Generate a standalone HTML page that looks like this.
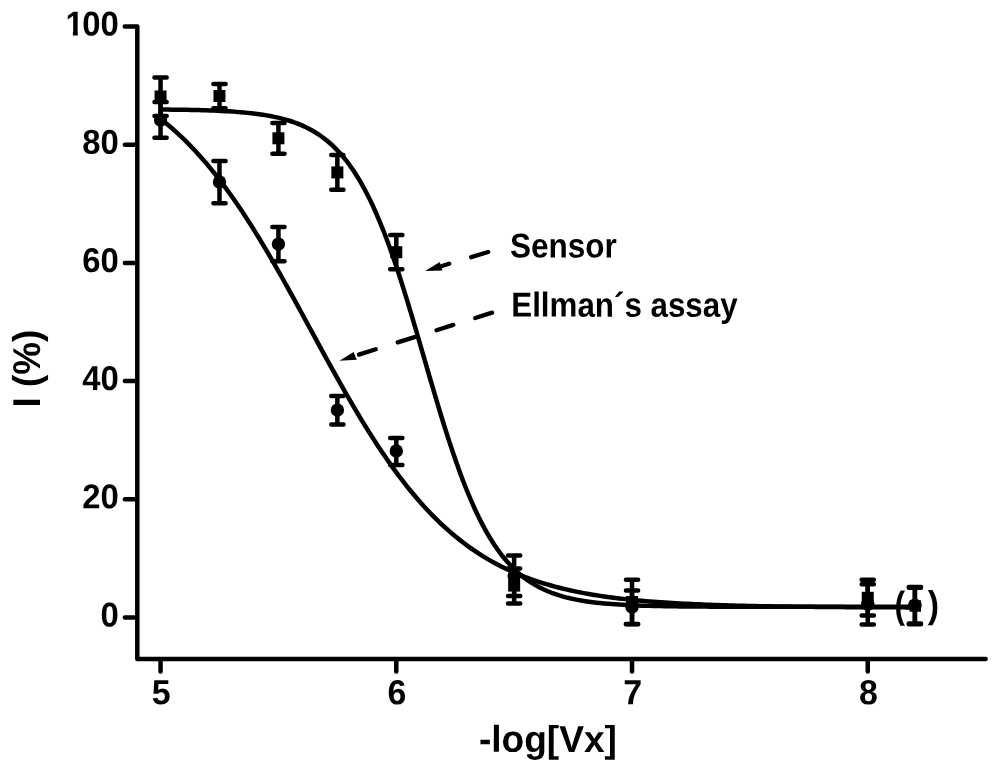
<!DOCTYPE html>
<html><head><meta charset="utf-8"><title>Inhibition curve</title>
<style>html,body{margin:0;padding:0;background:#fff}svg{display:block}text{font-family:"Liberation Sans",sans-serif;font-weight:bold;fill:#000}</style></head><body>
<svg width="1000" height="772" viewBox="0 0 1000 772">
<rect width="1000" height="772" fill="#fff"/>
<g fill="none" stroke="#000" stroke-width="4.50" stroke-linecap="round" stroke-linejoin="round">
<path d="M124.75,26.50 H137.30 V659.05 H985.60"/>
<path d="M124.85,617.45 H136.30"/>
<path d="M124.85,499.26 H136.30"/>
<path d="M124.85,381.07 H136.30"/>
<path d="M124.85,262.88 H136.30"/>
<path d="M124.85,144.69 H136.30"/>
<path d="M160.56,660.05 V671.40"/>
<path d="M396.29,660.05 V671.40"/>
<path d="M632.02,660.05 V671.40"/>
<path d="M867.75,660.05 V671.40"/>
<path stroke-linejoin="round" d="M160.56,109.51 L164.35,109.54 L168.14,109.58 L171.93,109.63 L175.72,109.68 L179.51,109.73 L183.30,109.80 L187.09,109.87 L190.89,109.94 L194.68,110.03 L198.47,110.12 L202.26,110.23 L206.05,110.34 L209.84,110.47 L213.63,110.62 L217.42,110.78 L221.21,110.95 L225.00,111.15 L228.79,111.37 L232.58,111.61 L236.37,111.88 L240.16,112.18 L243.95,112.51 L247.74,112.87 L251.54,113.28 L255.33,113.73 L259.12,114.23 L262.91,114.79 L266.70,115.40 L270.49,116.08 L274.28,116.84 L278.07,117.67 L281.86,118.60 L285.65,119.62 L289.44,120.75 L293.23,122.01 L297.02,123.39 L300.81,124.92 L304.60,126.60 L308.39,128.46 L312.19,130.51 L315.98,132.76 L319.77,135.24 L323.56,137.96 L327.35,140.95 L331.14,144.23 L334.93,147.82 L338.72,151.74 L342.51,156.01 L346.30,160.67 L350.09,165.73 L353.88,171.22 L357.67,177.17 L361.46,183.58 L365.25,190.49 L369.04,197.90 L372.84,205.83 L376.63,214.28 L380.42,223.27 L384.21,232.78 L388.00,242.81 L391.79,253.34 L395.58,264.35 L399.37,275.80 L403.16,287.65 L406.95,299.86 L410.74,312.38 L414.53,325.13 L418.32,338.07 L422.11,351.12 L425.90,364.20 L429.69,377.25 L433.49,390.19 L437.28,402.96 L441.07,415.49 L444.86,427.72 L448.65,439.59 L452.44,451.06 L456.23,462.09 L460.02,472.65 L463.81,482.70 L467.60,492.24 L471.39,501.25 L475.18,509.74 L478.97,517.70 L482.76,525.13 L486.55,532.06 L490.35,538.50 L494.14,544.47 L497.93,549.98 L501.72,555.07 L505.51,559.75 L509.30,564.04 L513.09,567.98 L516.88,571.58 L520.67,574.87 L524.46,577.88 L528.25,580.61 L532.04,583.11 L535.83,585.37 L539.62,587.43 L543.41,589.30 L547.20,590.99 L551.00,592.52 L554.79,593.91 L558.58,595.17 L562.37,596.31 L566.16,597.34 L569.95,598.27 L573.74,599.11 L577.53,599.87 L581.32,600.55 L585.11,601.17 L588.90,601.73 L592.69,602.23 L596.48,602.68 L600.27,603.09 L604.06,603.46 L607.85,603.79 L611.65,604.09 L615.44,604.36 L619.23,604.61 L623.02,604.83 L626.81,605.02 L630.60,605.20 L634.39,605.36 L638.18,605.51 L641.97,605.64 L645.76,605.75 L649.55,605.86 L653.34,605.96 L657.13,606.04 L660.92,606.12 L664.71,606.19 L668.50,606.25 L672.30,606.31 L676.09,606.36 L679.88,606.40 L683.67,606.44 L687.46,606.48 L691.25,606.51 L695.04,606.54 L698.83,606.57 L702.62,606.59 L706.41,606.62 L710.20,606.64 L713.99,606.65 L717.78,606.67 L721.57,606.68 L725.36,606.70 L729.15,606.71 L732.95,606.72 L736.74,606.73 L740.53,606.74 L744.32,606.74 L748.11,606.75 L751.90,606.76 L755.69,606.76 L759.48,606.77 L763.27,606.77 L767.06,606.78 L770.85,606.78 L774.64,606.78 L778.43,606.79 L782.22,606.79 L786.01,606.79 L789.81,606.79 L793.60,606.80 L797.39,606.80 L801.18,606.80 L804.97,606.80 L808.76,606.80 L812.55,606.80 L816.34,606.80 L820.13,606.80 L823.92,606.81 L827.71,606.81 L831.50,606.81 L835.29,606.81 L839.08,606.81 L842.87,606.81 L846.66,606.81 L850.46,606.81 L854.25,606.81 L858.04,606.81 L861.83,606.81 L865.62,606.81 L869.41,606.81 L873.20,606.81 L876.99,606.81 L880.78,606.81 L884.57,606.81 L888.36,606.81 L892.15,606.81 L895.94,606.81 L899.73,606.81 L903.52,606.81 L907.31,606.81 L911.11,606.81 L914.90,606.81"/>
<path stroke-linejoin="round" d="M160.56,118.92 L164.35,121.93 L168.14,125.05 L171.93,128.28 L175.72,131.64 L179.51,135.12 L183.30,138.72 L187.09,142.45 L190.89,146.31 L194.68,150.30 L198.47,154.43 L202.26,158.68 L206.05,163.07 L209.84,167.60 L213.63,172.26 L217.42,177.05 L221.21,181.98 L225.00,187.04 L228.79,192.24 L232.58,197.56 L236.37,203.02 L240.16,208.60 L243.95,214.31 L247.74,220.14 L251.54,226.08 L255.33,232.14 L259.12,238.30 L262.91,244.57 L266.70,250.94 L270.49,257.40 L274.28,263.94 L278.07,270.56 L281.86,277.25 L285.65,284.01 L289.44,290.83 L293.23,297.69 L297.02,304.59 L300.81,311.53 L304.60,318.48 L308.39,325.46 L312.19,332.43 L315.98,339.41 L319.77,346.37 L323.56,353.31 L327.35,360.23 L331.14,367.10 L334.93,373.93 L338.72,380.70 L342.51,387.42 L346.30,394.06 L350.09,400.63 L353.88,407.11 L357.67,413.50 L361.46,419.80 L365.25,426.00 L369.04,432.09 L372.84,438.06 L376.63,443.92 L380.42,449.67 L384.21,455.29 L388.00,460.78 L391.79,466.14 L395.58,471.38 L399.37,476.48 L403.16,481.44 L406.95,486.28 L410.74,490.98 L414.53,495.54 L418.32,499.97 L422.11,504.26 L425.90,508.42 L429.69,512.45 L433.49,516.35 L437.28,520.12 L441.07,523.76 L444.86,527.27 L448.65,530.67 L452.44,533.94 L456.23,537.09 L460.02,540.13 L463.81,543.05 L467.60,545.86 L471.39,548.56 L475.18,551.16 L478.97,553.66 L482.76,556.06 L486.55,558.36 L490.35,560.57 L494.14,562.69 L497.93,564.72 L501.72,566.67 L505.51,568.53 L509.30,570.32 L513.09,572.03 L516.88,573.66 L520.67,575.23 L524.46,576.73 L528.25,578.16 L532.04,579.53 L535.83,580.84 L539.62,582.09 L543.41,583.29 L547.20,584.43 L551.00,585.52 L554.79,586.56 L558.58,587.55 L562.37,588.50 L566.16,589.40 L569.95,590.27 L573.74,591.09 L577.53,591.88 L581.32,592.63 L585.11,593.34 L588.90,594.02 L592.69,594.67 L596.48,595.29 L600.27,595.88 L604.06,596.44 L607.85,596.98 L611.65,597.49 L615.44,597.97 L619.23,598.44 L623.02,598.88 L626.81,599.30 L630.60,599.70 L634.39,600.08 L638.18,600.44 L641.97,600.79 L645.76,601.12 L649.55,601.43 L653.34,601.73 L657.13,602.01 L660.92,602.28 L664.71,602.54 L668.50,602.79 L672.30,603.02 L676.09,603.24 L679.88,603.45 L683.67,603.65 L687.46,603.85 L691.25,604.03 L695.04,604.20 L698.83,604.37 L702.62,604.52 L706.41,604.67 L710.20,604.81 L713.99,604.95 L717.78,605.08 L721.57,605.20 L725.36,605.32 L729.15,605.43 L732.95,605.53 L736.74,605.63 L740.53,605.73 L744.32,605.82 L748.11,605.90 L751.90,605.99 L755.69,606.06 L759.48,606.14 L763.27,606.21 L767.06,606.28 L770.85,606.34 L774.64,606.40 L778.43,606.46 L782.22,606.51 L786.01,606.57 L789.81,606.61 L793.60,606.66 L797.39,606.71 L801.18,606.75 L804.97,606.79 L808.76,606.83 L812.55,606.87 L816.34,606.90 L820.13,606.93 L823.92,606.97 L827.71,607.00 L831.50,607.02 L835.29,607.05 L839.08,607.08 L842.87,607.10 L846.66,607.13 L850.46,607.15 L854.25,607.17 L858.04,607.19 L861.83,607.21 L865.62,607.23 L869.41,607.24 L873.20,607.26 L876.99,607.28 L880.78,607.29 L884.57,607.31 L888.36,607.32 L892.15,607.33 L895.94,607.34 L899.73,607.36 L903.52,607.37 L907.31,607.38 L911.11,607.39 L914.90,607.40"/>
<path d="M160.56,77.40 V116.00 M154.46,77.40 H166.66 M154.46,116.00 H166.66"/>
<path d="M219.49,84.10 V108.30 M213.39,84.10 H225.59 M213.39,108.30 H225.59"/>
<path d="M278.43,123.00 V153.70 M272.32,123.00 H284.53 M272.32,153.70 H284.53"/>
<path d="M337.36,155.00 V189.70 M331.26,155.00 H343.46 M331.26,189.70 H343.46"/>
<path d="M396.29,235.10 V269.30 M390.19,235.10 H402.39 M390.19,269.30 H402.39"/>
<path d="M514.15,568.40 V603.60 M508.05,568.40 H520.25 M508.05,603.60 H520.25"/>
<path d="M632.02,579.85 V624.15 M625.92,579.85 H638.12 M625.92,624.15 H638.12"/>
<path d="M867.75,579.85 V615.40 M861.65,579.85 H873.85 M861.65,615.40 H873.85"/>
<path d="M914.90,587.10 V624.20 M908.80,587.10 H921.00 M908.80,624.20 H921.00"/>
<path d="M160.56,102.00 V137.70 M154.46,102.00 H166.66 M154.46,137.70 H166.66"/>
<path d="M219.49,160.90 V203.20 M213.39,160.90 H225.59 M213.39,203.20 H225.59"/>
<path d="M278.43,227.00 V261.20 M272.32,227.00 H284.53 M272.32,261.20 H284.53"/>
<path d="M337.36,396.00 V424.50 M331.26,396.00 H343.46 M331.26,424.50 H343.46"/>
<path d="M396.29,438.00 V465.00 M390.19,438.00 H402.39 M390.19,465.00 H402.39"/>
<path d="M514.15,555.60 V596.00 M508.05,555.60 H520.25 M508.05,596.00 H520.25"/>
<path d="M632.02,590.50 V623.95 M625.92,590.50 H638.12 M625.92,623.95 H638.12"/>
<path d="M867.75,584.25 V624.40 M861.65,584.25 H873.85 M861.65,624.40 H873.85"/>
<path d="M914.90,587.70 V623.60 M908.80,587.70 H921.00 M908.80,623.60 H921.00"/>
</g>
<g fill="#000" stroke="none">
<rect x="154.56" y="90.50" width="12.00" height="12.00"/>
<rect x="213.49" y="90.00" width="12.00" height="12.00"/>
<rect x="272.43" y="132.30" width="12.00" height="12.00"/>
<rect x="331.36" y="166.40" width="12.00" height="12.00"/>
<rect x="390.29" y="246.20" width="12.00" height="12.00"/>
<rect x="508.15" y="579.60" width="12.00" height="12.00"/>
<rect x="626.02" y="596.00" width="12.00" height="12.00"/>
<rect x="861.75" y="591.80" width="12.00" height="12.00"/>
<rect x="909.5" y="600.4" width="11.5" height="11.3"/>
<circle cx="160.56" cy="120.00" r="6.70"/>
<circle cx="219.49" cy="182.00" r="6.70"/>
<circle cx="278.43" cy="244.10" r="6.70"/>
<circle cx="337.36" cy="410.10" r="6.70"/>
<circle cx="396.29" cy="451.00" r="6.70"/>
<circle cx="514.15" cy="576.00" r="6.70"/>
<circle cx="632.02" cy="607.00" r="6.70"/>
<circle cx="867.75" cy="604.30" r="6.70"/>
<circle cx="914.90" cy="605.20" r="6.80"/>
</g>
<path d="M439.47,266.69 L449.24,263.76 M471.17,257.18 L488.22,252.06" fill="none" stroke="#000" stroke-width="4.30" stroke-linecap="round"/>
<path d="M425.10,271.00 L439.75,262.00 L442.45,270.55 Z" fill="#000"/>
<path d="M358.91,354.62 L375.79,349.30 M397.68,342.41 L414.56,337.09 M436.45,330.19 L453.33,324.88 M475.22,317.98 L492.11,312.66" fill="none" stroke="#000" stroke-width="4.30" stroke-linecap="round"/>
<path d="M339.45,360.75 L353.60,352.00 L356.80,359.85 Z" fill="#000"/>
<text transform="translate(100.46,626.47) rotate(0.03) scale(1.0261,1.0753)" font-size="32">0</text>
<text transform="translate(82.20,508.28) rotate(0.03) scale(1.0261,1.0753)" font-size="32">20</text>
<text transform="translate(82.20,390.09) rotate(0.03) scale(1.0261,1.0753)" font-size="32">40</text>
<text transform="translate(82.20,271.90) rotate(0.03) scale(1.0261,1.0753)" font-size="32">60</text>
<text transform="translate(82.20,153.71) rotate(0.03) scale(1.0261,1.0753)" font-size="32">80</text>
<text transform="translate(63.94,35.52) rotate(0.03) scale(1.0261,1.0753)" font-size="32"><tspan dx="1.55">1</tspan><tspan dx="-1.55">00</tspan></text>
<rect x="64" y="31.7" width="8.9" height="5.3" fill="#fff"/><rect x="77.8" y="31.7" width="5.5" height="5.3" fill="#fff"/>
<text transform="translate(151.66,704.18) rotate(0.03) scale(1.0600,1.0870)" font-size="32">5</text>
<text transform="translate(387.46,704.18) rotate(0.03) scale(1.0600,1.0870)" font-size="32">6</text>
<text transform="translate(623.19,704.18) rotate(0.03) scale(1.0600,1.0870)" font-size="32">7</text>
<text transform="translate(858.92,704.18) rotate(0.03) scale(1.0600,1.0870)" font-size="32">8</text>
<text transform="translate(510.07,257.55) rotate(0.03) scale(0.9843,1.0750)" font-size="32">Sensor</text>
<text transform="translate(511.27,316.60) rotate(0.03) scale(0.9792,1.0750)" font-size="32">Ellman´s assay</text>
<text transform="translate(478.92,751.86) rotate(0.03) scale(0.9759,0.9854)" font-size="38">-log[Vx]</text>
<text transform="translate(39.93,407.40) rotate(-89.97) scale(0.9670,1.0206)" font-size="38">I (%)</text>
<text transform="translate(894.38,617.52) rotate(0.03) scale(0.8340,0.9967)" font-size="38">(</text>
<text transform="translate(927.86,617.52) rotate(0.03) scale(0.8929,0.9967)" font-size="38">)</text>
</svg></body></html>
